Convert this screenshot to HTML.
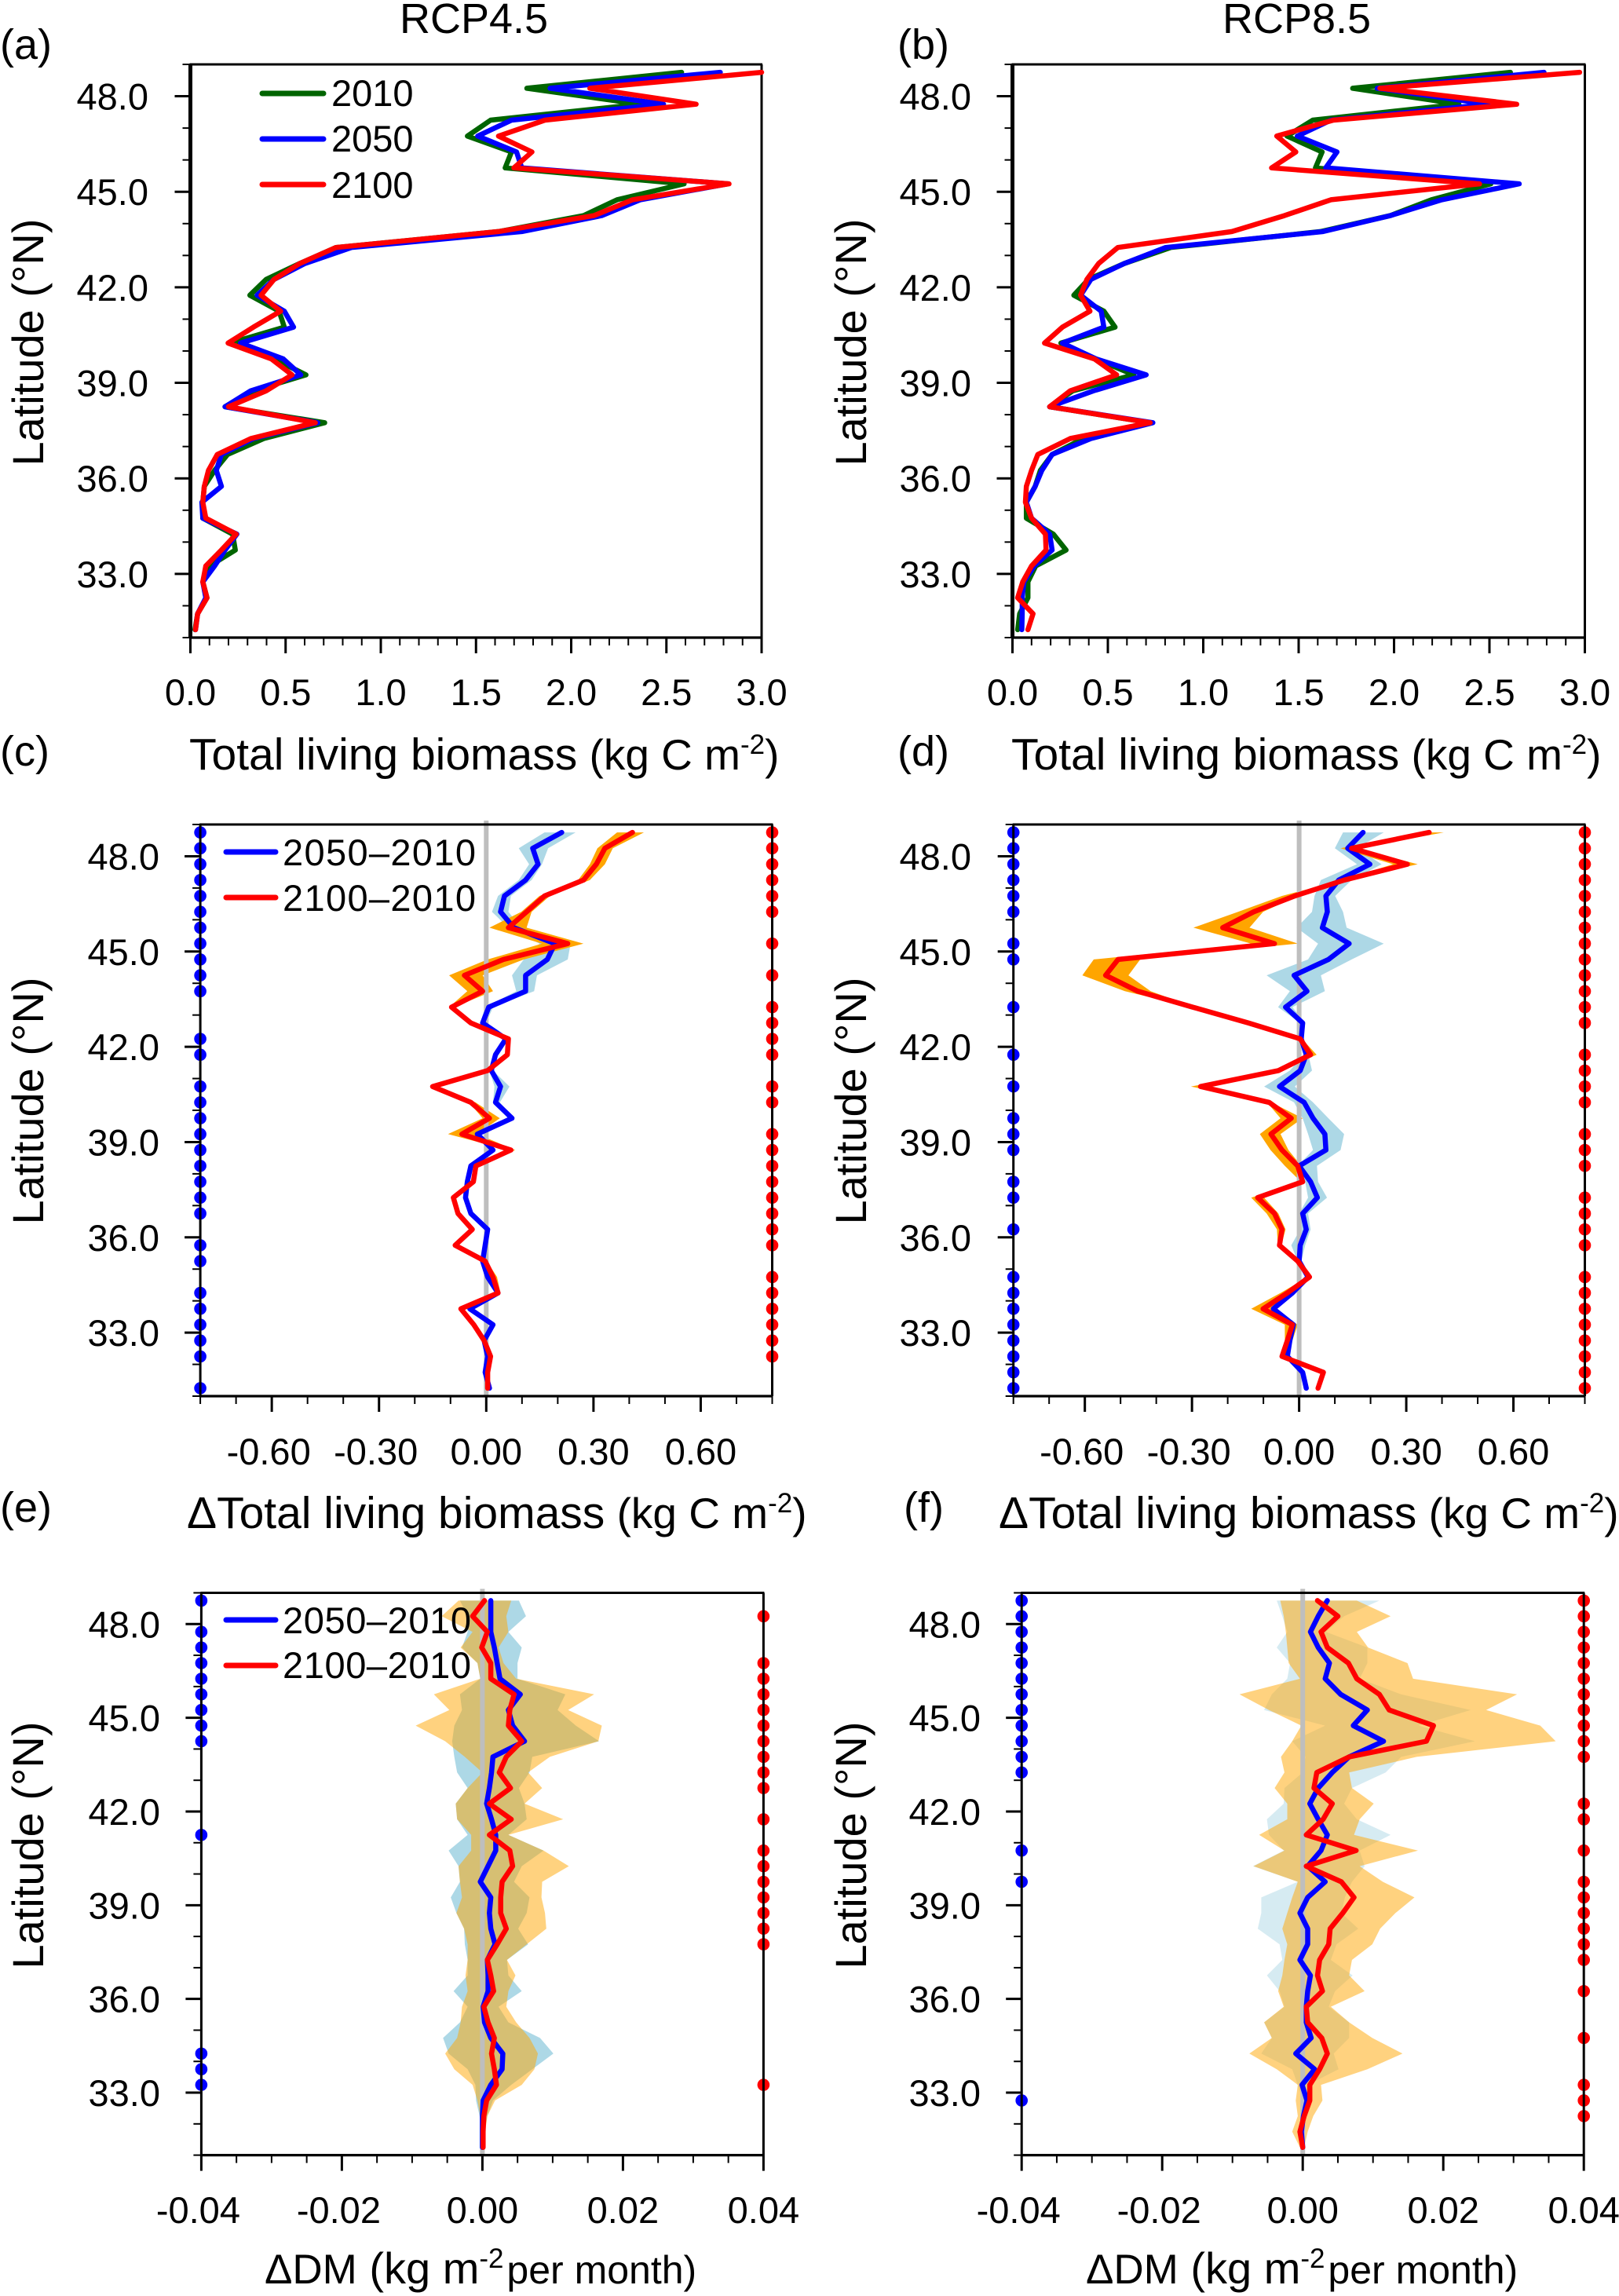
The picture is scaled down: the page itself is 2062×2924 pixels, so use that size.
<!DOCTYPE html>
<html lang="en">
<head>
<meta charset="utf-8">
<title>Latitudinal biomass profiles under RCP4.5 and RCP8.5</title>
<style>
html,body{margin:0;padding:0;background:#fff;}
svg{display:block;font-family:"Liberation Sans",sans-serif;fill:#000;}
.tick{font-size:47px;}
.title{font-size:56px;}
.head{font-size:54px;}
.sup{font-size:35px;}
.wide{font-size:57px;}
.mid{font-size:55px;}
.dm{font-size:53px;}
.small{font-size:50px;}
</style>
</head>
<body>
<svg id="figure" xmlns="http://www.w3.org/2000/svg" width="2062" height="2924" viewBox="0 0 2062 2924">
<rect width="2062" height="2924" fill="#fff"/>
<g id="marks"></g>

<text class="head" x="509" y="42">RCP4.5</text>
<text class="head" x="1557" y="42">RCP8.5</text>

<text class="head" x="0" y="75">(a)</text>
<text class="head" x="1143" y="75">(b)</text>
<text class="head" x="0" y="975">(c)</text>
<text class="head" x="1143" y="975">(d)</text>
<text class="head" x="0" y="1938">(e)</text>
<text class="head" x="1151" y="1938">(f)</text>

<text class="title" text-anchor="middle" transform="translate(55 436) rotate(-90)">Latitude (°N)</text>
<text class="title" text-anchor="middle" transform="translate(1103 436) rotate(-90)">Latitude (°N)</text>
<text class="title" text-anchor="middle" transform="translate(55 1402) rotate(-90)">Latitude (°N)</text>
<text class="title" text-anchor="middle" transform="translate(1103 1402) rotate(-90)">Latitude (°N)</text>
<text class="title" text-anchor="middle" transform="translate(55 2350) rotate(-90)">Latitude (°N)</text>
<text class="title" text-anchor="middle" transform="translate(1103 2350) rotate(-90)">Latitude (°N)</text>

<text class="title" x="241" y="980"><tspan class="wide">Total living biomass</tspan><tspan class="mid"> (kg C m</tspan><tspan class="sup" dy="-20">-2</tspan><tspan class="mid" dy="20">)</tspan></text>
<text class="title" x="1288" y="980"><tspan class="wide">Total living biomass</tspan><tspan class="mid"> (kg C m</tspan><tspan class="sup" dy="-20">-2</tspan><tspan class="mid" dy="20">)</tspan></text>
<text class="title" x="238" y="1946"><tspan class="wide">ΔTotal living biomass</tspan><tspan class="mid"> (kg C m</tspan><tspan class="sup" dy="-20">-2</tspan><tspan class="mid" dy="20">)</tspan></text>
<text class="title" x="1272" y="1946"><tspan class="wide">ΔTotal living biomass</tspan><tspan class="mid"> (kg C m</tspan><tspan class="sup" dy="-20">-2</tspan><tspan class="mid" dy="20">)</tspan></text>
<text class="title" x="337" y="2908"><tspan class="dm">ΔDM</tspan> (kg m<tspan class="sup" dy="-20">-2</tspan><tspan class="small" dy="20" dx="-10"> per month)</tspan></text>
<text class="title" x="1383" y="2908"><tspan class="dm">ΔDM</tspan> (kg m<tspan class="sup" dy="-20">-2</tspan><tspan class="small" dy="20" dx="-10"> per month)</tspan></text>

<g>
  <line x1="334" x2="412" y1="119" y2="119" stroke="#006400" stroke-width="7" stroke-linecap="round"/>
  <text class="tick" x="422" y="135">2010</text>
  <line x1="334" x2="412" y1="177" y2="177" stroke="#0000ff" stroke-width="7" stroke-linecap="round"/>
  <text class="tick" x="422" y="193">2050</text>
  <line x1="334" x2="412" y1="235" y2="235" stroke="#ff0000" stroke-width="7" stroke-linecap="round"/>
  <text class="tick" x="422" y="252">2100</text>
</g>
<g>
  <line x1="288" x2="351" y1="1085" y2="1085" stroke="#0000ff" stroke-width="7" stroke-linecap="round"/>
  <text class="tick" x="360" y="1102" textLength="246">2050–2010</text>
  <line x1="288" x2="351" y1="1143" y2="1143" stroke="#ff0000" stroke-width="7" stroke-linecap="round"/>
  <text class="tick" x="360" y="1160" textLength="246">2100–2010</text>
</g>
<g>
  <line x1="288" x2="351" y1="2063" y2="2063" stroke="#0000ff" stroke-width="7" stroke-linecap="round"/>
  <text class="tick" x="360" y="2080" textLength="240">2050–2010</text>
  <line x1="288" x2="351" y1="2121" y2="2121" stroke="#ff0000" stroke-width="7" stroke-linecap="round"/>
  <text class="tick" x="360" y="2137" textLength="240">2100–2010</text>
</g>
</svg>
<script>
const latitudes=[48.75,48.25,47.75,47.25,46.75,46.25,45.75,45.25,44.75,44.25,43.75,43.25,
42.75,42.25,41.75,41.25,40.75,40.25,39.75,39.25,38.75,38.25,37.75,37.25,
36.75,36.25,35.75,35.25,34.75,34.25,33.75,33.25,32.75,32.25,31.75,31.25];

const latTickLabels=["48.0","45.0","42.0","39.0","36.0","33.0"];
const biomassTickLabels=["0.0","0.5","1.0","1.5","2.0","2.5","3.0"];
const deltaBiomassTickLabels=["-0.60","-0.30","0.00","0.30","0.60"];
const deltaDmTickLabels=["-0.04","-0.02","0.00","0.02","0.04"];

/* panel a */
const a2010=[2.58,1.767,2.363,1.577,1.455,1.686,1.653,2.593,2.241,2.065,1.618,.764,
.575,.398,.312,.466,.493,.209,.439,.607,.331,.182,.705,.385,
.195,.127,.073,.065,.065,.222,.236,.1,.065,.087,.038,.024];
const a2050=[2.783,1.889,2.485,1.686,1.509,1.713,1.74,2.824,2.363,2.16,1.74,.846,
.602,.439,.35,.493,.542,.263,.488,.58,.317,.182,.669,.331,
.163,.136,.163,.06,.065,.244,.182,.127,.065,.081,.038,.027];
const a2100=[3.0,2.098,2.656,1.862,1.618,1.794,1.699,2.829,2.322,2.119,1.618,.764,
.575,.439,.371,.474,.331,.198,.425,.534,.398,.2,.656,.317,
.141,.095,.073,.065,.081,.241,.163,.081,.065,.087,.038,.027];

/* panel b */
const b2010=[2.61,1.783,2.34,1.574,1.439,1.623,1.588,2.507,2.196,1.98,1.615,.83,
.587,.398,.322,.479,.538,.254,.438,.636,.316,.195,.722,.371,
.208,.146,.119,.073,.073,.214,.281,.122,.081,.081,.038,.027];
const b2050=[2.786,1.912,2.494,1.669,1.493,1.701,1.642,2.656,2.25,1.98,1.628,.803,
.587,.411,.357,.465,.479,.262,.438,.701,.425,.195,.736,.411,
.208,.154,.119,.073,.1,.195,.208,.114,.06,.051,.051,.049];
const b2100=[2.973,1.926,2.643,1.682,1.385,1.485,1.358,2.448,1.669,1.425,1.15,.552,
.452,.39,.357,.406,.262,.168,.43,.546,.303,.195,.722,.303,
.133,.1,.073,.068,.1,.173,.176,.1,.054,.027,.108,.081];

/* panel c */
const cDiff2050=[.211,.13,.145,.11,.051,.04,.077,.192,.171,.11,.11,.007,
-.01,.055,.026,.014,.04,.026,.072,-.025,.019,-.043,-.053,-.058,
-.043,.004,-.003,-.01,.004,.033,-.046,.019,-.006,.004,-.003,.009];
const cDiff2100=[.409,.332,.308,.272,.163,.113,.062,.228,.048,-.061,-.01,-.097,
-.043,.062,.059,.004,-.15,-.043,.009,-.068,.069,-.029,-.036,-.092,
-.079,-.039,-.087,-.003,.019,.033,-.071,-.035,-.006,.012,.004,.004];
const cBlueLow=[.163,.091,.12,.091,.033,.016,.062,.149,.105,.072,.084,-.003,
-.017,.05,.021,.009,.023,.019,.067,-.03,.014,-.048,-.058,-.063,
-.048,-.001,-.008,-.015,-.001,.028,-.051,.014,-.011,-.001,-.008,.004];
const cBlueHigh=[.25,.173,.156,.127,.069,.062,.098,.236,.228,.142,.134,.019,
0,.06,.031,.019,.065,.038,.077,-.02,.024,-.038,-.048,-.053,
-.038,.009,.002,-.005,.009,.038,-.041,.024,-.001,.009,.002,.014];
const cOrangeLow=[.366,.311,.29,.257,.149,.098,.009,.156,.004,-.104,-.053,-.104,
-.048,.057,.054,-.001,-.155,-.048,-.01,-.107,.062,-.034,-.041,-.097,
-.084,-.044,-.092,-.008,.012,.025,-.078,-.04,-.011,.007,-.001,-.001];
const cOrangeHigh=[.441,.354,.332,.29,.178,.127,.113,.272,.105,-.01,.019,-.09,
-.038,.067,.064,.009,-.145,-.03,.038,-.025,.081,-.024,-.031,-.085,
-.072,-.034,-.082,.002,.03,.04,-.065,-.03,-.001,.017,.009,.009];
const cSigBlue=[48.75,48.25,47.75,47.25,46.75,46.25,45.75,45.25,44.75,44.25,43.75,42.25,41.75,40.75,40.25,39.75,39.25,38.75,38.25,37.75,37.25,36.75,35.75,35.25,34.25,33.75,33.25,32.75,32.25,31.25];
const cSigRed=[48.75,48.25,47.75,47.25,46.75,46.25,45.25,44.25,43.25,42.75,42.25,41.75,40.75,40.25,39.25,38.75,38.25,37.75,37.25,36.75,36.25,35.75,34.75,34.25,33.75,33.25,32.75,32.25];

/* panel d */
const dDiff2050=[.179,.136,.198,.111,.075,.079,.065,.14,.082,-.014,.022,-.038,
.01,.006,.02,.003,-.055,.014,.039,.072,.075,0,.032,.051,
.01,.02,.003,0,.025,-.019,-.072,-.016,-.026,-.033,.01,.02];
const dDiff2100=[.364,.147,.303,.126,-.012,-.127,-.214,-.069,-.507,-.542,-.452,-.298,
-.142,.003,.032,-.058,-.276,-.084,-.022,-.079,-.048,-.004,.01,-.116,
-.069,-.048,-.055,-.004,.029,-.033,-.101,-.019,-.033,-.048,.068,.053];
const dBlueLow=[.123,.1,.162,.061,.043,.036,-.007,.053,.025,-.091,-.026,-.059,
.003,0,.014,-.026,-.098,-.014,.01,.025,.039,-.004,.017,.025,
0,.003,-.022,-.004,.02,-.03,-.08,-.022,-.032,-.038,.005,.015];
const dBlueHigh=[.237,.162,.231,.147,.101,.123,.133,.237,.147,.061,.072,-.019,
.017,.012,.026,.036,-.012,.039,.082,.126,.116,.05,.053,.078,
.025,.032,.017,.006,.03,-.01,-.064,-.01,-.02,-.028,.015,.025];
const dOrangeLow=[.335,.116,.263,.12,-.048,-.171,-.296,-.134,-.575,-.607,-.488,-.303,
-.147,-.002,.017,-.063,-.303,-.09,-.052,-.11,-.08,-.04,.005,-.134,
-.091,-.062,-.06,-.009,.024,-.052,-.134,-.04,-.04,-.053,.063,.048];
const dOrangeHigh=[.405,.162,.332,.132,-.004,-.101,-.139,-.004,-.445,-.478,-.416,-.293,
-.137,.008,.049,-.053,-.257,-.078,.01,-.052,-.03,.006,.015,-.098,
-.058,-.038,-.05,.001,.034,-.012,-.069,-.004,-.019,-.043,.073,.058];
const dSigBlue=[48.75,48.25,47.75,47.25,46.75,46.25,45.25,44.75,43.25,41.75,40.75,39.75,39.25,38.75,37.75,37.25,36.25,34.75,34.25,33.75,33.25,32.75,32.25,31.75,31.25];
const dSigRed=[48.75,48.25,47.75,47.25,46.75,46.25,45.75,45.25,44.75,44.25,43.75,43.25,42.75,41.75,41.25,40.75,40.25,39.25,38.75,38.25,37.25,36.75,36.25,35.75,34.75,34.25,33.75,33.25,32.75,32.25,31.75,31.25];

/* panel e */
const eDiff2050=[.0012,.0012,.0012,.0017,.0021,.0025,.0054,.0037,.0043,.006,.0015,.0013,
.001,.0006,.0013,.0019,.0019,.0008,-.0003,.0012,.001,.0012,.0018,.0007,
.0008,.0008,.0001,.0003,.0012,.0029,.0028,.0012,.0001,0,0,0];
const eDiff2100=[.0003,-.0014,.0007,-.0001,.0012,.0012,.0045,.0039,.0037,.0056,.0034,.0024,
.004,.001,.0041,.001,.0039,.0043,.0028,.0026,.0026,.0034,.0021,.0007,
.0012,.0016,.0002,.0008,.0017,.0013,.0017,.002,.0006,.0002,.0001,.0001];
const eBlueLow=[-.0032,-.0021,-.0021,-.0029,-.0007,-.0003,-.0032,-.0029,-.004,-.0043,-.004,-.0036,
-.0021,-.0038,-.0036,-.0021,-.0048,-.0034,-.0032,-.0045,-.0037,-.0026,-.0025,-.0021,
-.0021,-.0041,-.0021,-.0032,-.0056,-.0048,-.0021,-.001,-.0009,-.0004,-.0001,-.0001];
const eBlueHigh=[.0052,.0062,.0037,.0056,.005,.005,.0118,.0107,.0133,.0166,.0071,.0067,
.0052,.006,.0063,.0037,.0087,.0056,.0045,.0067,.0063,.0051,.0065,.0035,
.0037,.0056,.0023,.0037,.0082,.0101,.0071,.0041,.0015,.0007,.0003,.0001];
const eOrangeLow=[-.0034,-.0058,-.0014,-.0031,-.0007,-.0003,-.0069,-.0047,-.0095,-.0053,-.0025,0,
-.0021,-.0038,-.0036,-.0016,-.0016,-.0034,-.0032,-.0029,-.0037,-.0026,-.0021,-.0021,
-.0024,-.0021,-.0029,-.0031,-.0036,-.0053,-.004,-.0014,-.0007,-.0003,-.0001,-.0001];
const eOrangeHigh=[.0041,.0034,.0037,.0023,.003,.0048,.0159,.0122,.017,.0165,.0096,.0065,
.0085,.006,.0115,.0037,.0087,.0123,.0085,.0084,.0089,.0091,.0063,.0035,
.0047,.0037,.0034,.0048,.0067,.0079,.0074,.0056,.0018,.0007,.0004,.0002];
const eSigBlue=[48.75,47.75,47.25,46.75,46.25,45.75,45.25,44.75,44.25,41.25,34.25,33.75,33.25];
const eSigRed=[48.25,46.75,46.25,45.75,45.25,44.75,44.25,43.75,43.25,42.75,41.75,40.75,40.25,39.75,39.25,38.75,38.25,37.75,33.25];

/* panel f */
const fDiff2050=[.0035,.0022,.0011,.0022,.0038,.0032,.0054,.0092,.0072,.0115,.0066,.0042,
.0022,.001,.0022,.0035,.0026,.0007,.0032,.0007,-.0004,.0007,.0007,-.0004,
.0011,.0007,.0005,.0005,.0012,-.001,.0017,-.0001,.0006,.0001,-.0002,0];
const fDiff2100=[.0021,.005,.0026,.0035,.0065,.0077,.0109,.0123,.0186,.0176,.0066,.002,
.0016,.0042,.0029,.0005,.0076,.0005,.0055,.0073,.0057,.0039,.0037,.0024,
.0021,.0028,.0005,.0007,.0027,.0035,.0024,.001,.001,.0002,-.0004,0];
const fBlueLow=[-.0037,-.0029,-.0022,-.0037,-.0018,-.0022,-.0044,-.0055,.0032,-.0015,.0004,0,
-.0026,-.0027,-.0051,-.0048,-.0027,-.0071,-.0007,-.0059,-.0059,-.0064,-.0033,-.0029,
-.0051,-.0033,-.0026,-.0055,-.0044,-.0059,-.0015,-.0007,0,-.0001,-.0003,0];
const fBlueHigh=[.0109,.0059,.0033,.0092,.0092,.0081,.014,.0239,.0165,.0245,.014,.0118,
.007,.0059,.0077,.0125,.0081,.0088,.007,.006,.0055,.0079,.0048,.004,
.0071,.0046,.0037,.0066,.0066,.0044,.0051,.0007,.0011,.0004,-.0001,.0001];
const fOrangeLow=[-.0032,-.0027,-.0024,-.0022,-.002,-.0004,-.009,-.0048,-.0002,-.0015,-.0031,-.0026,
-.004,-.0022,-.0022,-.0062,-.0026,-.007,-.0007,-.0015,-.0022,-.0029,-.0022,-.0026,
-.0029,-.0035,-.0027,-.0055,-.0044,-.0076,-.0037,-.0007,-.001,-.0007,-.0015,-.0004];
const fOrangeHigh=[.0077,.0125,.0077,.0093,.0149,.0157,.0305,.0261,.0338,.036,.0162,.0066,
.007,.0101,.0081,.0073,.0164,.0081,.0114,.0159,.0132,.011,.0099,.007,
.0066,.0088,.004,.0066,.0099,.0142,.0092,.0026,.0028,.0015,.0007,.0002];
const fSigBlue=[48.75,48.25,47.75,47.25,46.75,46.25,45.75,45.25,44.75,44.25,43.75,43.25,40.75,39.75,32.75];
const fSigRed=[48.75,48.25,47.75,47.25,46.75,46.25,45.75,45.25,44.75,44.25,43.75,42.25,41.75,40.75,39.75,39.25,38.75,38.25,37.75,37.25,36.25,34.75,33.25,32.75,32.25];

const SVGNS='http://www.w3.org/2000/svg';
const root=document.getElementById('marks');
function make(tag,attrs,parent){
  const node=document.createElementNS(SVGNS,tag);
  for(const k in attrs){node.setAttribute(k,attrs[k]);}
  parent.appendChild(node);
  return node;
}

function drawPanel(p){
  const g=make('g',{},root);
  
  
  const sx=v=>p.x0+(v-p.xMin)/(p.xMax-p.xMin)*(p.x1-p.x0);
  const sy=lat=>p.top+(49-lat)/18*(p.bottom-p.top);

  /* shaded uncertainty bands */
  (p.bands||[]).forEach(b=>{
    const pts=[];
    latitudes.forEach((lat,i)=>pts.push(sx(b.low[i]).toFixed(1)+','+sy(lat).toFixed(1)));
    for(let i=latitudes.length-1;i>=0;i--){pts.push(sx(b.high[i]).toFixed(1)+','+sy(latitudes[i]).toFixed(1));}
    const band=make('polygon',{points:pts.join(' '),fill:b.color,'fill-opacity':b.opacity},g);
    
    
  });

  /* zero reference line */
  if(p.zeroLine){
    const zero=make('line',{x1:sx(0),x2:sx(0),y1:p.top-5,y2:p.bottom,stroke:'#bebebe','stroke-width':6},g);
    
    
  }

  /* significance dots */
  (p.sig||[]).forEach(s=>{
    s.lats.forEach(lat=>{
      const dot=make('circle',{cx:sx(s.at),cy:sy(lat),r:7.8,fill:s.color},g);
      
      
    });
  });

  /* axes */
  const frame=[
    ['axis-top',p.x0-1,p.top,p.x1+1,p.top,3],
    ['axis-right',p.x1,p.top,p.x1,p.bottom,3],
    ['axis-bottom',p.x0-1,p.bottom,p.x1+1,p.bottom,3.2],
    ['axis-left',p.x0,p.top,p.x0,p.bottom,p.leftWidth]
  ];
  frame.forEach(f=>{
    const ln=make('line',{x1:f[1],y1:f[2],x2:f[3],y2:f[4],stroke:'#000','stroke-width':f[5]},g);
    
    
  });

  /* y ticks */
  for(let lat=31;lat<=49;lat++){
    const major=lat>=33&&lat<=48&&lat%3===0;
    const tick=make('line',{x1:p.x0-(major?20:10),x2:p.x0,y1:sy(lat),y2:sy(lat),stroke:'#000','stroke-width':major?3:2},g);
    
    
  }
  latTickLabels.forEach(txt=>{
    const t=make('text',{x:p.yLabelX,y:sy(parseFloat(txt))+17,'text-anchor':'end','class':'tick'},g);
    t.textContent=txt;
    
    
  });

  /* x ticks */
  for(let i=0;i<=p.xSteps;i++){
    const v=p.xMin+i*p.xStep;
    const major=p.isMajor(i);
    const tick=make('line',{x1:sx(v),x2:sx(v),y1:p.bottom,y2:p.bottom+(major?20:10),stroke:'#000','stroke-width':major?3:2},g);
    
    
  }
  p.labels.forEach(txt=>{
    const t=make('text',{x:sx(parseFloat(txt))-(txt[0]==='-'?4:0),y:p.labelY,'text-anchor':'middle','class':'tick'},g);
    t.textContent=txt;
    
    
  });

  /* series lines */
  p.lines.forEach(s=>{
    const pts=latitudes.map((lat,i)=>sx(s.values[i]).toFixed(1)+','+sy(lat).toFixed(1)).join(' ');
    const line=make('polyline',{points:pts,fill:'none',stroke:s.color,'stroke-width':6.5,'stroke-linejoin':'round','stroke-linecap':'round'},g);
    
    
  });
}

const GREEN='#006400',BLUE='#0000ff',RED='#ff0000',LIGHTBLUE='#add8e6',ORANGE='#ffa500';
const biomassAxis={xMin:0,xMax:3,xStep:0.1,xSteps:30,isMajor:i=>i%5===0,labels:biomassTickLabels,labelY:898,leftWidth:5,top:82,bottom:812};
const deltaAxis={xMin:-0.8,xMax:0.8,xStep:0.1,xSteps:16,isMajor:i=>i>=2&&i<=14&&(i-2)%3===0,labels:deltaBiomassTickLabels,labelY:1865,leftWidth:3,top:1050,bottom:1778,zeroLine:true};
const dmAxis={xMin:-0.04,xMax:0.04,xStep:0.005,xSteps:16,isMajor:i=>i%4===0,labels:deltaDmTickLabels,labelY:2831,leftWidth:3,top:2028.5,bottom:2744.6,zeroLine:true};

drawPanel(Object.assign({},biomassAxis,{id:'a',x0:242.5,x1:970,yLabelX:189,
  lines:[{values:a2010,color:GREEN,label:'2010'},{values:a2050,color:BLUE,label:'2050'},{values:a2100,color:RED,label:'2100'}]}));
drawPanel(Object.assign({},biomassAxis,{id:'b',x0:1289.5,x1:2018.5,yLabelX:1237,
  lines:[{values:b2010,color:GREEN,label:'2010'},{values:b2050,color:BLUE,label:'2050'},{values:b2100,color:RED,label:'2100'}]}));
drawPanel(Object.assign({},deltaAxis,{id:'c',x0:255.1,x1:983.5,yLabelX:203,
  bands:[{low:cBlueLow,high:cBlueHigh,color:LIGHTBLUE,opacity:1,label:'2050-2010'},{low:cOrangeLow,high:cOrangeHigh,color:ORANGE,opacity:1,label:'2100-2010'}],
  sig:[{lats:cSigBlue,at:-0.8,color:BLUE,label:'2050-2010'},{lats:cSigRed,at:0.8,color:RED,label:'2100-2010'}],
  lines:[{values:cDiff2050,color:BLUE,label:'2050-2010'},{values:cDiff2100,color:RED,label:'2100-2010'}]}));
drawPanel(Object.assign({},deltaAxis,{id:'d',x0:1290.7,x1:2018.5,yLabelX:1237,
  bands:[{low:dBlueLow,high:dBlueHigh,color:LIGHTBLUE,opacity:1,label:'2050-2010'},{low:dOrangeLow,high:dOrangeHigh,color:ORANGE,opacity:1,label:'2100-2010'}],
  sig:[{lats:dSigBlue,at:-0.8,color:BLUE,label:'2050-2010'},{lats:dSigRed,at:0.8,color:RED,label:'2100-2010'}],
  lines:[{values:dDiff2050,color:BLUE,label:'2050-2010'},{values:dDiff2100,color:RED,label:'2100-2010'}]}));
drawPanel(Object.assign({},dmAxis,{id:'e',x0:256.4,x1:972.4,yLabelX:204,
  bands:[{low:eBlueLow,high:eBlueHigh,color:LIGHTBLUE,opacity:1,label:'2050-2010'},{low:eOrangeLow,high:eOrangeHigh,color:ORANGE,opacity:0.5,label:'2100-2010'}],
  sig:[{lats:eSigBlue,at:-0.04,color:BLUE,label:'2050-2010'},{lats:eSigRed,at:0.04,color:RED,label:'2100-2010'}],
  lines:[{values:eDiff2050,color:BLUE,label:'2050-2010'},{values:eDiff2100,color:RED,label:'2100-2010'}]}));
drawPanel(Object.assign({},dmAxis,{id:'f',x0:1301.2,x1:2017.2,yLabelX:1249,
  bands:[{low:fBlueLow,high:fBlueHigh,color:LIGHTBLUE,opacity:0.5,label:'2050-2010'},{low:fOrangeLow,high:fOrangeHigh,color:ORANGE,opacity:0.5,label:'2100-2010'}],
  sig:[{lats:fSigBlue,at:-0.04,color:BLUE,label:'2050-2010'},{lats:fSigRed,at:0.04,color:RED,label:'2100-2010'}],
  lines:[{values:fDiff2050,color:BLUE,label:'2050-2010'},{values:fDiff2100,color:RED,label:'2100-2010'}]}));
</script>
</body>
</html>
